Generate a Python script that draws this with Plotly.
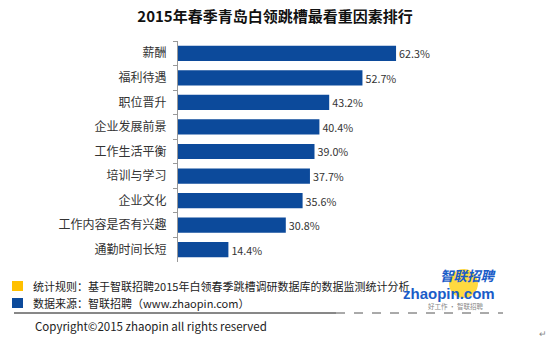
import plotly.graph_objects as go

categories = ["薪酬", "福利待遇", "职位晋升", "企业发展前景", "工作生活平衡",
              "培训与学习", "企业文化", "工作内容是否有兴趣", "通勤时间长短"]
values = [62.3, 52.7, 43.2, 40.4, 39.0, 37.7, 35.6, 30.8, 14.4]
labels = [f"{v:.1f}%" for v in values]

W, H = 550, 345
L, R, T, B = 178, 92, 41, 83
PW, PH = W - L - R, H - T - B

def px(x):
    return (x - L) / PW

def py(y):
    return (H - B - y) / PH

FONT = "Noto Sans CJK SC, Microsoft YaHei, sans-serif"
BLUE = "#0C4A9B"

fig = go.Figure(go.Bar(
    x=values, y=categories, orientation="h",
    marker=dict(color=BLUE, line=dict(width=0)),
    text=labels, textposition="outside", cliponaxis=False,
    textfont=dict(size=12, color="#333333", family=FONT),
    width=0.62,
))

fig.update_layout(
    width=W, height=H,
    margin=dict(l=L, r=R, t=T, b=B),
    paper_bgcolor="white", plot_bgcolor="white",
    showlegend=False,
    title=dict(text="<b>2015年春季青岛白领跳槽最看重因素排行</b>",
               x=0.5, xanchor="center", y=1 - 17 / H, yanchor="middle",
               font=dict(size=15, color="#111111", family=FONT)),
    xaxis=dict(range=[0, 80], visible=False, fixedrange=True),
    yaxis=dict(autorange="reversed", showline=True, linecolor="#999999",
               linewidth=1, ticks="outside", tickson="boundaries", ticklen=4,
               tickcolor="#999999", showgrid=False, ticksuffix="   ",
               tickfont=dict(size=12, color="#333333", family=FONT)),
)

ann = []
shapes = []
# footer legend squares
shapes.append(dict(type="rect", xref="paper", yref="paper",
                   x0=px(12), x1=px(23), y0=py(291), y1=py(281),
                   fillcolor="#FFC000", line=dict(width=0)))
shapes.append(dict(type="rect", xref="paper", yref="paper",
                   x0=px(12), x1=px(23), y0=py(308), y1=py(298),
                   fillcolor="#0C4A9B", line=dict(width=0)))
ann.append(dict(text="统计规则：基于智联招聘2015年白领春季跳槽调研数据库的数据监测统计分析",
                x=px(31), y=py(286), xref="paper", yref="paper",
                xanchor="left", yanchor="middle", showarrow=False,
                font=dict(size=11, color="#222222", family=FONT)))
ann.append(dict(text="数据来源：智联招聘（www.zhaopin.com）",
                x=px(31), y=py(303), xref="paper", yref="paper",
                xanchor="left", yanchor="middle", showarrow=False,
                font=dict(size=11, color="#222222", family=FONT)))
# separator line
shapes.append(dict(type="line", xref="paper", yref="paper",
                   x0=px(14), x1=px(336), y0=py(313), y1=py(313),
                   line=dict(color="#111111", width=1)))
shapes.append(dict(type="line", xref="paper", yref="paper",
                   x0=px(336), x1=px(503), y0=py(313), y1=py(313),
                   line=dict(color="#555555", width=1, dash="dash")))
ann.append(dict(text="Copyright©2015 zhaopin all rights reserved",
                x=px(33), y=py(326), xref="paper", yref="paper",
                xanchor="left", yanchor="middle", showarrow=False,
                font=dict(size=11.5, color="#222222", family=FONT)))
ann.append(dict(text="↵", x=px(543), y=py(333), xref="paper", yref="paper",
                xanchor="center", yanchor="middle", showarrow=False,
                font=dict(size=9, color="#888888", family=FONT)))
# logo
shapes.append(dict(type="circle", xref="paper", yref="paper",
                   x0=px(449), x1=px(478), y0=py(298), y1=py(269),
                   fillcolor="#FFD21F", line=dict(width=0), opacity=0.85))
ann.append(dict(text="<b><i>智联招聘</i></b>", x=px(499), y=py(275), xref="paper", yref="paper",
                xanchor="right", yanchor="middle", showarrow=False,
                font=dict(size=13.5, color="#1A5CC8", family=FONT)))
ann.append(dict(text="<b>zhaopin.com</b>", x=px(497), y=py(293), xref="paper", yref="paper",
                xanchor="right", yanchor="middle", showarrow=False,
                font=dict(size=15, color="#1A5CC8", family="Arial, Liberation Sans, sans-serif")))
ann.append(dict(text="好工作 · 智联招聘", x=px(455), y=py(306), xref="paper", yref="paper",
                xanchor="center", yanchor="middle", showarrow=False,
                font=dict(size=6.5, color="#888888", family=FONT)))

fig.update_layout(annotations=ann, shapes=shapes)
fig.write_html("out.html")
